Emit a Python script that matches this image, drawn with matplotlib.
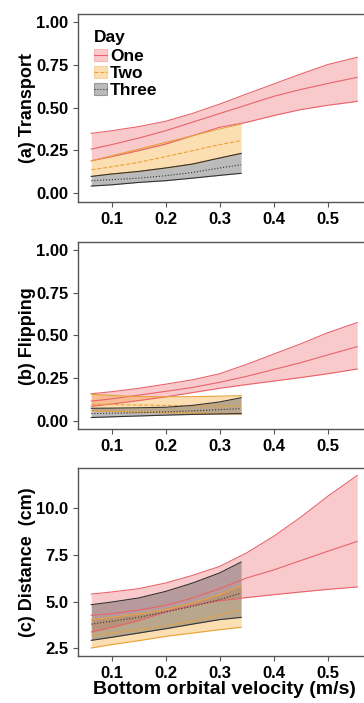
import matplotlib.pyplot as plt
from matplotlib.patches import Patch
from matplotlib.lines import Line2D

plt.rcParams['font.family'] = ['Liberation Sans', 'DejaVu Sans']
plt.rcParams['font.weight'] = 'bold'

# x values for each day (m/s)
x_one = [0.0625, 0.1, 0.15, 0.2, 0.25, 0.3, 0.35, 0.4, 0.45, 0.5, 0.555]
x_short = [0.0625, 0.1, 0.15, 0.2, 0.25, 0.3, 0.34]

# (a) Transport
tr_one_mean = [0.258, 0.284, 0.322, 0.365, 0.415, 0.465, 0.515, 0.565, 0.605, 0.64, 0.676]
tr_one_lo = [0.19, 0.214, 0.249, 0.287, 0.336, 0.385, 0.414, 0.453, 0.488, 0.513, 0.536]
tr_one_hi = [0.35, 0.365, 0.389, 0.42, 0.466, 0.52, 0.579, 0.637, 0.695, 0.75, 0.793]
tr_two_mean = [0.138, 0.155, 0.181, 0.214, 0.249, 0.284, 0.307]
tr_two_lo = [0.099, 0.113, 0.128, 0.148, 0.171, 0.206, 0.233]
tr_two_hi = [0.19, 0.219, 0.258, 0.297, 0.336, 0.375, 0.404]
tr_three_mean = [0.074, 0.08, 0.089, 0.103, 0.122, 0.148, 0.167]
tr_three_lo = [0.043, 0.05, 0.064, 0.074, 0.089, 0.105, 0.117]
tr_three_hi = [0.099, 0.113, 0.128, 0.148, 0.171, 0.206, 0.233]

# (b) Flipping
fl_one_mean = [0.115, 0.128, 0.150, 0.172, 0.195, 0.225, 0.26, 0.30, 0.34, 0.385, 0.434]
fl_one_lo = [0.085, 0.098, 0.118, 0.140, 0.165, 0.19, 0.212, 0.232, 0.253, 0.275, 0.303]
fl_one_hi = [0.158, 0.170, 0.190, 0.214, 0.24, 0.275, 0.33, 0.39, 0.45, 0.515, 0.575]
fl_two_mean = [0.097, 0.095, 0.092, 0.090, 0.088, 0.086, 0.085]
fl_two_lo = [0.058, 0.055, 0.050, 0.047, 0.044, 0.041, 0.039]
fl_two_hi = [0.155, 0.148, 0.142, 0.140, 0.141, 0.144, 0.147]
fl_three_mean = [0.042, 0.044, 0.047, 0.052, 0.058, 0.065, 0.071]
fl_three_lo = [0.019, 0.023, 0.028, 0.033, 0.037, 0.040, 0.042]
fl_three_hi = [0.073, 0.074, 0.076, 0.079, 0.09, 0.11, 0.135]

# (c) Distance (cm)
di_one_mean = [4.27, 4.36, 4.55, 4.8, 5.2, 5.7, 6.27, 6.7, 7.2, 7.7, 8.23]
di_one_lo = [3.375, 3.62, 3.98, 4.45, 4.8, 5.05, 5.22, 5.375, 5.52, 5.66, 5.79]
di_one_hi = [5.41, 5.52, 5.70, 6.0, 6.41, 6.89, 7.61, 8.5, 9.52, 10.64, 11.77]
di_two_mean = [3.2, 3.32, 3.5, 3.71, 3.95, 4.27, 4.57]
di_two_lo = [2.52, 2.7, 2.91, 3.14, 3.32, 3.5, 3.625]
di_two_hi = [4.04, 4.16, 4.34, 4.57, 4.93, 5.375, 5.875]
di_three_mean = [3.8, 3.95, 4.16, 4.45, 4.75, 5.11, 5.46]
di_three_lo = [2.93, 3.09, 3.32, 3.55, 3.8, 4.04, 4.16]
di_three_hi = [4.84, 4.98, 5.2, 5.55, 6.0, 6.54, 7.125]

days = ['One', 'Two', 'Three']
fill_cols = ['#F0676E', '#F5A623', '#555555']
fill_alpha = [0.35, 0.35, 0.4]
line_cols = ['#E8646A', '#E9A13B', '#333333']
mean_styles = ['-', '--', ':']

panels = [
    ('(a) Transport', [0, 0.25, 0.5, 0.75, 1.0], ['0.00', '0.25', '0.50', '0.75', '1.00'], (-0.05, 1.045),
     [(tr_one_mean, tr_one_lo, tr_one_hi), (tr_two_mean, tr_two_lo, tr_two_hi), (tr_three_mean, tr_three_lo, tr_three_hi)]),
    ('(b) Flipping', [0, 0.25, 0.5, 0.75, 1.0], ['0.00', '0.25', '0.50', '0.75', '1.00'], (-0.05, 1.045),
     [(fl_one_mean, fl_one_lo, fl_one_hi), (fl_two_mean, fl_two_lo, fl_two_hi), (fl_three_mean, fl_three_lo, fl_three_hi)]),
    ('(c) Distance  (cm)', [2.5, 5.0, 7.5, 10.0], ['2.5', '5.0', '7.5', '10.0'], (2.09, 12.15),
     [(di_one_mean, di_one_lo, di_one_hi), (di_two_mean, di_two_lo, di_two_hi), (di_three_mean, di_three_lo, di_three_hi)]),
]

fig = plt.figure(figsize=(3.64, 7.03), dpi=100)
W, H = 364, 703
tops = [14, 242.3, 468.3]
bottoms = [202, 429.3, 656]
left_px, right_px = 78, 370.5

for i, (ylab, yt, ytl, ylim, series) in enumerate(panels):
    ax = fig.add_axes([left_px / W, 1 - bottoms[i] / H, (right_px - left_px) / W, (bottoms[i] - tops[i]) / H])
    for k, (m, lo, hi) in enumerate(series):
        xs = x_one if k == 0 else x_short
        ax.fill_between(xs, lo, hi, color=fill_cols[k], alpha=fill_alpha[k], lw=0)
        ax.plot(xs, lo, color=line_cols[k], lw=0.8)
        ax.plot(xs, hi, color=line_cols[k], lw=0.8)
        ax.plot(xs, m, color=line_cols[k], lw=0.8, ls=mean_styles[k])
    ax.set_xlim(0.0379, 0.5796)
    ax.set_ylim(*ylim)
    ax.set_xticks([0.1, 0.2, 0.3, 0.4, 0.5])
    ax.set_xticklabels(['0.1', '0.2', '0.3', '0.4', '0.5'])
    ax.set_yticks(yt)
    ax.set_yticklabels(ytl)
    ax.tick_params(labelsize=12, length=3.5, width=0.8, color='#555555', pad=3.5)
    for s in ax.spines.values():
        s.set_color('#555555')
        s.set_linewidth(1.0)
    ax.set_ylabel(ylab, fontsize=13, fontweight='bold')
    ax.yaxis.set_label_coords(-0.145, 0.5)
    if i == 0:
        handles = []
        for k in range(3):
            handles.append((Patch(facecolor=fill_cols[k], alpha=fill_alpha[k], edgecolor=line_cols[k], lw=0.8),
                            Line2D([], [], color=line_cols[k], lw=0.8, ls=mean_styles[k])))
        leg = ax.legend(handles, days, title='Day', loc='upper left', frameon=False, fontsize=12.5,
                        title_fontproperties={'weight': 'bold', 'size': 12.5},
                        handlelength=0.75, handleheight=0.72, handletextpad=0.2, labelspacing=0.1,
                        borderaxespad=0.7, borderpad=0.2, alignment='left')
        leg._legend_box.sep = 3
    if i == 2:
        ax.set_xlabel('Bottom orbital velocity (m/s)', fontsize=14, fontweight='bold')
        ax.xaxis.set_label_coords(0.5, -0.135)

plt.savefig('out.png', dpi=100)
